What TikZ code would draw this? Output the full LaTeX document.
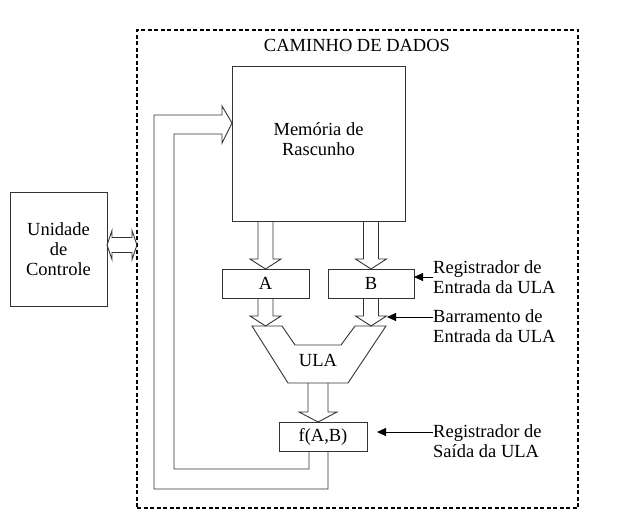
\documentclass[tikz,border=0pt]{standalone}
\usepackage{fontspec}
\setmainfont{Liberation Serif}
\usetikzlibrary{calc,arrows.meta}

\tikzset{
  box/.style={draw=black!80, line width=1pt, inner sep=0pt, outer sep=0pt},
  busline/.style={draw=black!80, line width=0.9pt},
  note/.style={draw=black, line width=0.9pt, -{Triangle[length=9pt,width=8pt]}},
  lbl/.style={align=left, inner sep=0pt, anchor=west},
}
% block arrow: start, tip, half shaft, half head
\newcommand{\busarrow}[4]{%
  \draw[busline] let \p1=(#1), \p2=(#2) in
    (\x1-#3pt,\y1) -- (\x1-#3pt,\y2+10pt) -- (\x1-#4pt,\y2+10pt) -- (\x1,\y2)
    -- (\x1+#4pt,\y2+10pt) -- (\x1+#3pt,\y2+10pt) -- (\x1+#3pt,\y1);}

\begin{document}
\begin{tikzpicture}[x=1pt,y=1pt,font=\fontsize{18.5}{20}\selectfont]
        \useasboundingbox (0,0) rectangle (617,523);
        % dashed frame of the data path
        \node[draw, line width=1.3pt, dash pattern=on 4pt off 2.5pt, inner sep=0pt, outer sep=0pt,
          minimum width=441pt, minimum height=478pt] (frame) at (357.5,254) {};
        \node (title) at (357,478) {CAMINHO DE DADOS};
        \node[box, minimum width=97pt, minimum height=114pt, align=center] (ctrl) at (58.5,274) {Unidade\\de\\Controle};
        \node[box, minimum width=173pt, minimum height=154pt] (mem) at (318.5,379) {};
        \node[align=center] (memtxt) at (318.5,384) {Memória de\\Rascunho};
        \node[box, minimum width=87pt, minimum height=29pt] (A) at (265.5,239.5) {A};
        \node[box, minimum width=86pt, minimum height=29pt] (B) at (371,239.5) {B};
        \node[box, minimum width=88pt, minimum height=29pt] (fab) at (323,86.5) {f(A,B)};
        % the ULA
        \draw[busline] (252,197) -- (282,197) -- (295,178) -- (341,178) -- (355,197)
          -- (386,197) -- (348,140) -- (288,140) -- cycle;
        \node (ula) at (318,163) {ULA};
        \coordinate (ulatop) at (318,197);
        \coordinate (ulaout) at (318,140);
        % buses
        \busarrow{A.north |- mem.south}{A.north}{7.5}{15.5}
        \busarrow{B.north |- mem.south}{B.north}{7.5}{15.5}
        \busarrow{A.south}{A.south |- ulatop}{7.5}{15.5}
        \busarrow{B.south}{B.south |- ulatop}{7.5}{15.5}
        \busarrow{ulaout}{ulaout |- fab.north}{10}{19}
        % feedback into the memory
        \coordinate (fbtip) at (232,400);
        \draw[busline] ($(fab.south)+(-14,0)$) |- (174,54) |- (222,389) -- (222,380) -- (fbtip)
          -- (222,417) -- (222,408) -| (154,34) -| ($(fab.south)+(5,0)$);
        % link to the control unit
        \draw[busline] let \p1=($(ctrl.east)+(0,4)$), \p2=($(frame.west |- ctrl.east)+(0,4)$) in
          (\p1) -- (\x1+5pt,\y1+14.5pt) -- (\x1+5pt,\y1+7.5pt) -- (\x2-5pt,\y1+7.5pt)
          -- (\x2-5pt,\y1+14.5pt) -- (\p2) -- (\x2-5pt,\y1-14.5pt) -- (\x2-5pt,\y1-7.5pt)
          -- (\x1+5pt,\y1-7.5pt) -- (\x1+5pt,\y1-14.5pt) -- cycle;
        % labels on the right
        \node[lbl] (regin) at (433,246) {Registrador de\\Entrada da ULA};
        \draw[note] (regin.west) -- (regin.west -| B.east);
        \node[lbl] (barr) at (433,197) {Barramento de\\Entrada da ULA};
        \coordinate (bhead) at (387,206);
        \draw[note] (barr.west |- bhead) -- (bhead);
        \node[lbl] (regout) at (433,82) {Registrador de\\Saída da ULA};
        \coordinate (fabmark) at (377,91);
        \draw[note] (regout.west |- fabmark) -- (fabmark);
      \end{tikzpicture}
\end{document}
